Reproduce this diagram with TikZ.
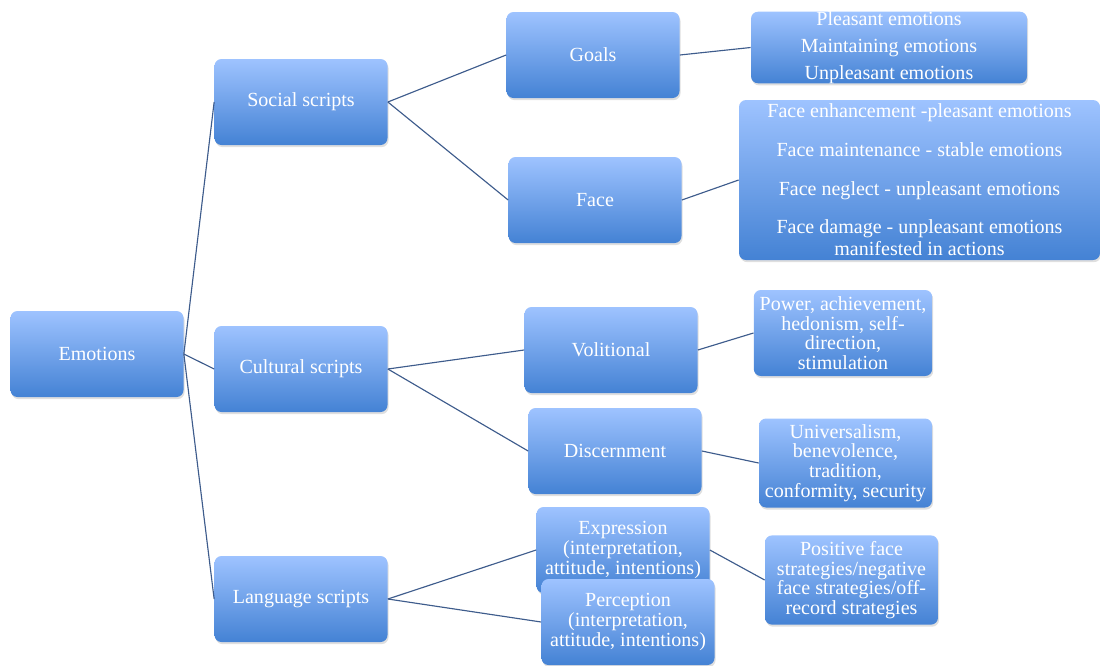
\documentclass[tikz,border=0pt]{standalone}
\usepackage{fontspec}
\setmainfont{Liberation Serif}
\usetikzlibrary{shadows}
\definecolor{btop}{RGB}{158, 195, 255}
\definecolor{bbot}{RGB}{68, 130, 212}
\definecolor{mline}{RGB}{62, 92, 140}
\tikzset{box/.style = {rounded corners=0.14cm, top color=btop, bottom color=bbot,
                       draw=none, text=white, align=center,
                       font=\fontsize{11.4}{11.2}\selectfont,
                       minimum width=3.46cm, minimum height=1.72cm,
                       drop shadow={shadow xshift=0.6pt, shadow yshift=-1.2pt,
                                    opacity=0.25}}}
\tikzset{link/.style = {draw=mline, line width=0.65pt}}

\begin{document}
\begin{tikzpicture}
      \useasboundingbox (0, 0) rectangle (22, -13.3);

      \node [box] (emo) at (1.94, -7.08) {Emotions};

      \node [box] (social) at (6.02, -2.04) {Social scripts};
      \node [box] (cultural) at (6.02, -7.38) {Cultural scripts};
      \node [box] (language) at (6.02, -11.98) {Language scripts};

      \node [box] (goals) at (11.86, -1.10) {Goals};
      \node [box] (face) at (11.90, -4.00) {Face};
      \node [box] (volit) at (12.22, -7.00) {Volitional};
      \node [box] (discern) at (12.30, -9.02) {Discernment};
      \node [box] (express) at (12.46, -11.00)
            {Expression\\(interpretation,\\attitude, intentions)};
      \node [box] (percep) at (12.56, -12.44)
            {Perception\\(interpretation,\\attitude, intentions)};

      \node [box, inner ysep=0pt, minimum width=5.52cm, minimum height=1.42cm]
            (goalsleaf) at (17.78, -0.95)
            {Pleasant emotions\\[4pt] Maintaining emotions\\[4pt] Unpleasant emotions};
      \node [box, inner ysep=0pt, minimum width=7.22cm, minimum height=3.2cm]
            (faceleaf) at (18.39, -3.60)
            {Face enhancement -pleasant emotions\\[10.8pt]
             Face maintenance - stable emotions\\[10.8pt]
             Face neglect - unpleasant emotions\\[10.8pt]
             Face damage - unpleasant emotions\\[1.3pt] manifested in actions};
      \node [box] (volleaf) at (16.86, -6.66)
            {Power, achievement,\\hedonism, self-\\direction,\\stimulation};
      \node [box] (discleaf) at (16.91, -9.26)
            {Universalism,\\benevolence,\\tradition,\\conformity, security};
      \node [box] (expleaf) at (17.03, -11.60)
            {Positive face\\strategies/negative\\face strategies/off-\\record strategies};

      \draw [link] (emo.east) -- (social.west);
      \draw [link] (emo.east) -- (cultural.west);
      \draw [link] (emo.east) -- (language.west);

      \draw [link] (social.east) -- (goals.west);
      \draw [link] (social.east) -- (face.west);
      \draw [link] (cultural.east) -- (volit.west);
      \draw [link] (cultural.east) -- (discern.west);
      \draw [link] (language.east) -- (express.west);
      \draw [link] (language.east) -- (percep.west);

      \draw [link] (goals.east) -- (goalsleaf.west);
      \draw [link] (face.east) -- (faceleaf.west);
      \draw [link] (volit.east) -- (volleaf.west);
      \draw [link] (discern.east) -- (discleaf.west);
      \draw [link] (express.east) -- (expleaf.west);
    \end{tikzpicture}
\end{document}
